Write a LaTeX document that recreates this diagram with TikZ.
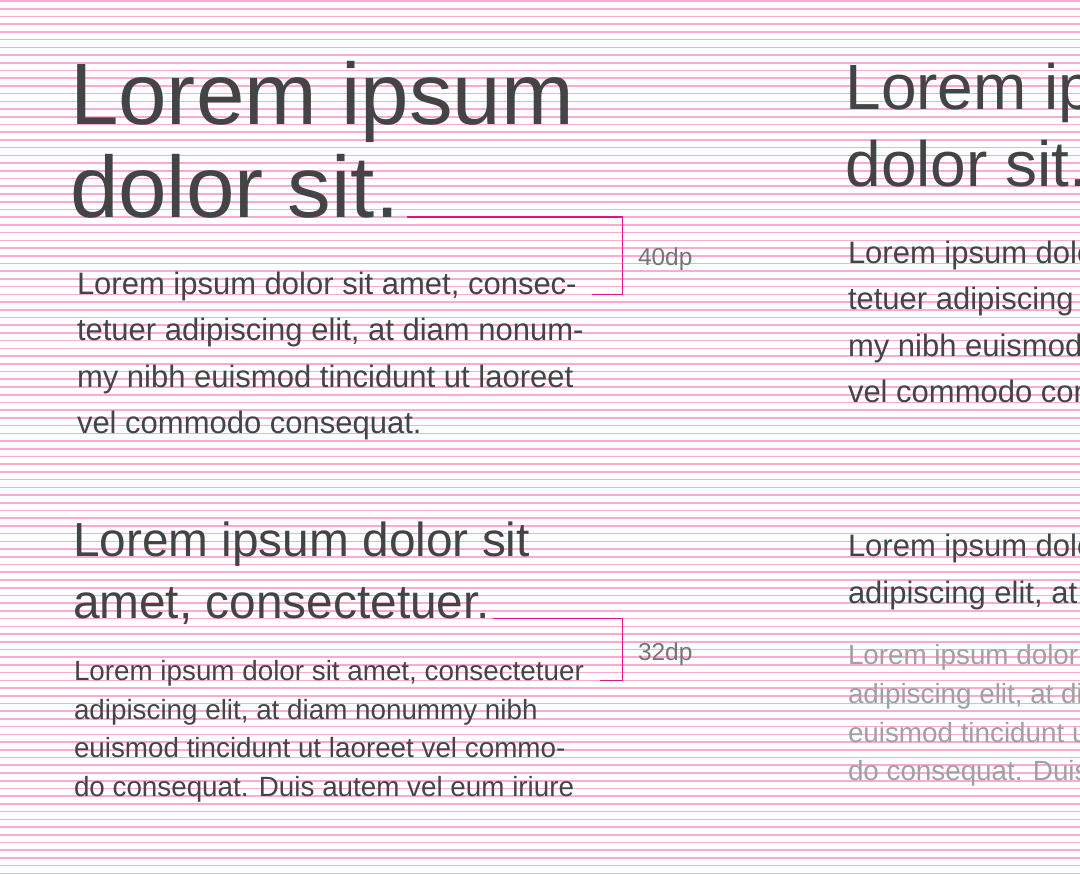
\documentclass[tikz,border=0pt]{standalone}
\usepackage{fontspec}
\setmainfont{Liberation Sans}
\usepackage{tikz}

\definecolor{inkgray}{RGB}{68,68,68}
\definecolor{softgray}{RGB}{160,160,160}
\definecolor{labelgray}{RGB}{117,117,117}
\definecolor{gridpink}{RGB}{250,170,214}
\definecolor{markpink}{RGB}{228,18,132}

\tikzset{
  txt/.style={anchor=base west, inner sep=0pt, outer sep=0pt, text=inkgray},
  display/.style={txt, font=\fontsize{87.2}{90}\selectfont},
  displaysm/.style={txt, font=\fontsize{64}{66}\selectfont},
  headline/.style={txt, font=\fontsize{47.8}{50}\selectfont},
  bodyone/.style={txt, font=\fontsize{31}{33}\selectfont},
  bodytwo/.style={txt, font=\fontsize{27.8}{30}\selectfont},
  dplabel/.style={txt, text=labelgray, font=\fontsize{24.5}{26}\selectfont},
  gridline/.style={draw=gridpink, line width=1.6pt},
  measure/.style={draw=markpink, line width=1.6pt},
}

\begin{document}
\begin{tikzpicture}[x=1pt,y=-1pt]
  \useasboundingbox (0,0) rectangle (1080,875);
  \clip (0,0) rectangle (1080,875);
  \fill[white] (0,0) rectangle (1080,875);

  % baseline grid
  \foreach \k in {0,...,113}
    \draw[gridline] (0,{1+7.72*\k}) -- (1080,{1+7.72*\k});

  % left column, upper block
  \node[display, name=ld1] at (70,124.5) {Lorem ipsum};
  \node[display, name=ld2] at (70,217.2) {dolor sit.};
  \foreach \t [count=\i] in {{Lorem ipsum dolor sit amet, consec-},
      {tetuer adipiscing elit, at diam nonum-},
      {my nibh euismod tincidunt ut laoreet},
      {vel commodo consequat.}}
    \node[bodyone, name=lb\i] at (77,{294.4+46.3*(\i-1)}) {\t};

  % left column, lower block
  \node[headline, name=lh1] at (73,556.8) {Lorem ipsum dolor sit};
  \node[headline, name=lh2] at (73,618.6) {amet, consectetuer.};
  \foreach \t [count=\i] in {{Lorem ipsum dolor sit amet, consectetuer},
      {adipiscing elit, at diam nonummy nibh},
      {euismod tincidunt ut laoreet vel commo-},
      {do consequat. Duis autem vel eum iriure}}
    \node[bodytwo, name=ls\i] at (74,{680.4+38.6*(\i-1)}) {\t};

  % right column, upper block
  \node[displaysm, name=rd1] at (845.5,109.1) {Lorem ipsum};
  \node[displaysm, name=rd2] at (845.5,186.3) {dolor sit.};
  \foreach \t [count=\i] in {{Lorem ipsum dolor sit amet, consec-},
      {tetuer adipiscing elit, at diam nonum-},
      {my nibh euismod tincidunt ut laoreet},
      {vel commodo consequat.}}
    \node[bodyone, name=rb\i] at (848,{263.5+46.3*(\i-1)}) {\t};

  % right column, lower block
  \node[bodyone, name=rh1] at (848,556.8) {Lorem ipsum dolor sit amet, consectetuer};
  \node[bodyone, name=rh2] at (848,603.1) {adipiscing elit, at diam nonummy nibh};
  \foreach \t [count=\i] in {{Lorem ipsum dolor sit amet, consectetuer},
      {adipiscing elit, at diam nonummy nibh},
      {euismod tincidunt ut laoreet vel commo-},
      {do consequat. Duis autem vel eum iriure}}
    \node[bodytwo, text=softgray, name=rs\i] at (848,{664.9+38.6*(\i-1)}) {\t};

  % spacing marks
  \coordinate (m1a) at (407.3,216.9);
  \coordinate (m1c) at (622.3,294.4);
  \coordinate (m1e) at (592.3,294.4);
  \draw[measure] (m1a) -| (m1c) -- (m1e);
  \node[dplabel, name=dp40] at (638,265) {40dp};

  \coordinate (m2a) at (492.7,618.6);
  \coordinate (m2c) at (622.3,680.4);
  \coordinate (m2e) at (600,680.4);
  \draw[measure] (m2a) -| (m2c) -- (m2e);
  \node[dplabel, name=dp32] at (638,660) {32dp};
\end{tikzpicture}
\end{document}
